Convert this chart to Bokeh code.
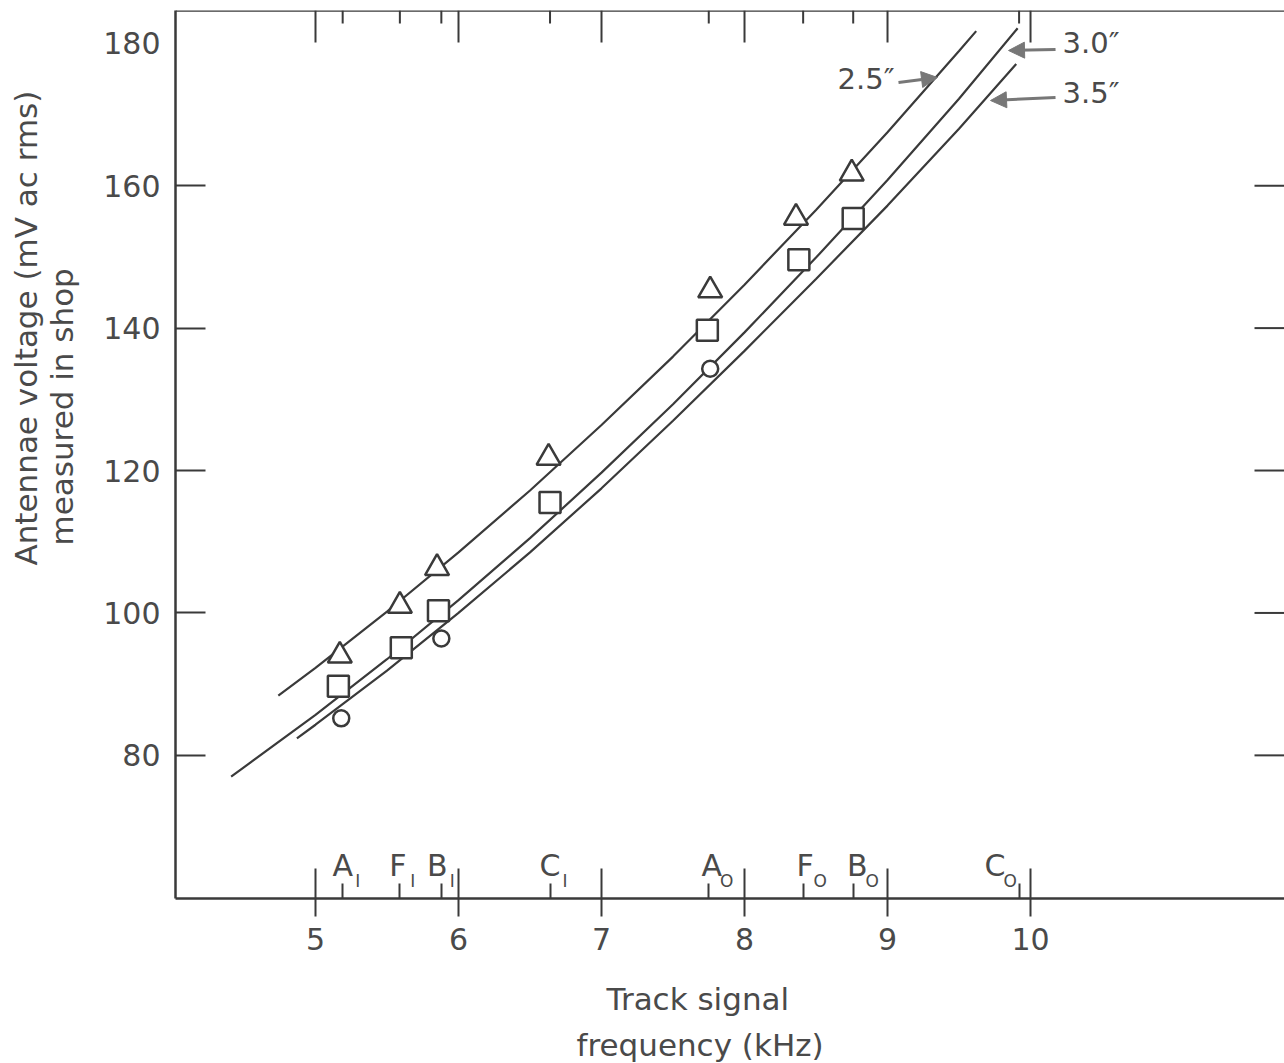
import math
from bokeh.plotting import figure
from bokeh.models import Range1d, FixedTicker, Label, Arrow, NormalHead, Span, Title
from bokeh.core.properties import value
from bokeh.embed import file_html
from bokeh.resources import INLINE

# ---------------- data ----------------
x_ticks = [5, 6, 7, 8, 9, 10]
y_label_ticks = [80, 100, 120, 140, 160, 180]
y_mark_ticks = [80, 100, 120, 140, 160]

track_freqs = [5.19, 5.59, 5.88, 6.64, 7.75, 8.41, 8.76, 9.92]
track_letters = ["A", "F", "B", "C", "A", "F", "B", "C"]
track_subs = ["I", "I", "I", "I", "O", "O", "O", "O"]

tri_x = [5.17, 5.59, 5.85, 6.63, 7.76, 8.36, 8.75]
tri_y = [94.0, 101.0, 106.3, 121.8, 145.3, 155.5, 161.7]
sq_x = [5.16, 5.60, 5.86, 6.64, 7.74, 8.38, 8.76]
sq_y = [89.7, 95.1, 100.3, 115.5, 139.7, 149.6, 155.4]
circ_x = [5.18, 5.88, 7.76]
circ_y = [85.2, 96.4, 134.3]

curve_25_x = [4.74, 5.0, 5.5, 6.0, 6.5, 7.0, 7.5, 8.0, 8.5, 9.0, 9.5, 9.62]
curve_25_y = [88.4, 92.3, 100.2, 108.5, 117.2, 126.4, 136.0, 146.1, 156.6, 167.5, 178.9, 181.7]
curve_30_x = [4.41, 5.0, 5.5, 6.0, 6.5, 7.0, 7.5, 8.0, 8.5, 9.0, 9.5, 9.91]
curve_30_y = [77.0, 85.7, 93.5, 101.8, 110.5, 119.7, 129.3, 139.4, 149.9, 160.8, 172.2, 182.1]
curve_35_x = [4.87, 5.0, 5.5, 6.0, 6.5, 7.0, 7.5, 8.0, 8.5, 9.0, 9.5, 9.9]
curve_35_y = [82.4, 84.3, 91.9, 100.0, 108.5, 117.5, 127.0, 136.8, 146.9, 157.2, 168.0, 177.1]

curve_names = ["2.5\u2033", "3.0\u2033", "3.5\u2033"]

# ---------------- layout / style ----------------
X0, X1 = 4.021, 11.776
Y0, Y1 = 59.9, 184.6
FR_L, FR_T, FR_B = 175, 10, 898          # pixels of frame edges
PX_PER_X = 143.0
INK = "#3a3a3a"
TXT = "#4a4a4a"
FONT = "DejaVu Sans"


def dx(px):
    return X0 + (px - FR_L) / PX_PER_X


def dy(py):
    return Y1 - (py - FR_T) * (Y1 - Y0) / (FR_B - FR_T)


p = figure(width=1284, height=1063, output_backend="svg", toolbar_location=None,
           x_range=Range1d(X0, X1), y_range=Range1d(Y0, Y1),
           min_border_left=175, min_border_right=0, min_border_top=10, min_border_bottom=165)
p.outline_line_color = None
p.xgrid.visible = False
p.ygrid.visible = False
p.background_fill_color = "white"
p.border_fill_color = "white"

# bottom axis
xa = p.xaxis[0]
xa.ticker = FixedTicker(ticks=x_ticks, minor_ticks=track_freqs)
xa.axis_line_color = INK
xa.axis_line_width = 2.5
xa.major_tick_line_color = INK
xa.major_tick_line_width = 2
xa.major_tick_in = 30
xa.major_tick_out = 18
xa.minor_tick_line_color = INK
xa.minor_tick_line_width = 2
xa.minor_tick_in = 15
xa.minor_tick_out = 0
xa.major_label_standoff = 11
xa.major_label_text_font = FONT
xa.major_label_text_font_size = "30px"
xa.major_label_text_color = TXT

# left axis
ya = p.yaxis[0]
ya.ticker = FixedTicker(ticks=y_label_ticks, minor_ticks=y_mark_ticks)
ya.axis_line_color = INK
ya.axis_line_width = 2.5
ya.major_tick_in = 0
ya.major_tick_out = 0
ya.minor_tick_line_color = INK
ya.minor_tick_line_width = 2
ya.minor_tick_in = 30
ya.minor_tick_out = 0
ya.major_label_standoff = 15
ya.major_label_text_font = FONT
ya.major_label_text_font_size = "30px"
ya.major_label_text_color = TXT


# axis titles (Title annotations in the side panels; inner one added first)
def title(text, offset, standoff, valign):
    return Title(text=text, align="left", offset=offset, standoff=standoff,
                 vertical_align=valign, text_font=FONT, text_font_size="31px",
                 text_font_style="normal", text_color=TXT)


p.add_layout(title("measured in shop", FR_B - 545, 38, "top"), "left")
p.add_layout(title("Antennae voltage (mV ac rms)", FR_B - 565, -38, "bottom"), "left")
p.add_layout(title("Track signal", 606 - FR_L, 57, "top"), "below")
p.add_layout(title("frequency (kHz)", 576 - FR_L, -41, "top"), "below")

# top edge line with inward ticks
p.add_layout(Span(location=Y1, dimension="width", line_color=INK, line_width=2.5))
p.ray(x=x_ticks, y=[Y1] * len(x_ticks), length=32, angle=-math.pi / 2,
      length_units="screen", line_color=INK, line_width=2)
p.ray(x=track_freqs, y=[Y1] * len(track_freqs), length=13, angle=-math.pi / 2,
      length_units="screen", line_color=INK, line_width=2)
# right-edge inward ticks (the right border itself is cut off in the figure)
p.ray(x=[X1] * len(y_mark_ticks), y=y_mark_ticks, length=30, angle=math.pi,
      length_units="screen", line_color=INK, line_width=2)

# curves
for cx, cy in [(curve_25_x, curve_25_y), (curve_30_x, curve_30_y), (curve_35_x, curve_35_y)]:
    p.line(cx, cy, line_color=INK, line_width=2.2)

# data points
p.scatter(tri_x, tri_y, marker="triangle", size=24, fill_color="white",
          line_color=INK, line_width=2.5)
p.scatter(sq_x, sq_y, marker="square", size=21, fill_color="white",
          line_color=INK, line_width=2.5)
p.scatter(circ_x, circ_y, marker="circle", size=16, fill_color="white",
          line_color=INK, line_width=2.5)

# track-circuit letters above the bottom axis
letter_dx = [0, -2, -4, 0, 3, 2, 4, -24]
sub_dx = [d + 15 for d in letter_dx]
n = len(track_freqs)
p.text(x=track_freqs, y=[Y0] * n, text=track_letters, x_offset=letter_dx, y_offset=-33,
       text_align="center", text_baseline="alphabetic",
       text_font=value(FONT), text_font_size="30px", text_color=TXT)
p.text(x=track_freqs, y=[Y0] * n, text=track_subs, x_offset=sub_dx, y_offset=-18,
       text_align="center", text_baseline="alphabetic",
       text_font=value(FONT), text_font_size="17px", text_color=TXT)

# curve labels with arrows
lab_pos = [(837, 78), (1062, 42), (1062, 92)]
arr_pos = [((898, 82), (937, 77)), ((1055, 49), (1008, 50)), ((1055, 97), (990, 100))]
for name, (lx, ly), ((tx, ty), (hx, hy)) in zip(curve_names, lab_pos, arr_pos):
    p.add_layout(Label(x=dx(lx), y=dy(ly), text=name, text_align="left",
                       text_baseline="middle", text_font=FONT,
                       text_font_size="29px", text_color=TXT))
    p.add_layout(Arrow(x_start=dx(tx), y_start=dy(ty), x_end=dx(hx), y_end=dy(hy),
                       line_color="#777777", line_width=3,
                       end=NormalHead(size=16, fill_color="#777777", line_color="#777777")))

open("out.html", "w").write(file_html(p, INLINE))
